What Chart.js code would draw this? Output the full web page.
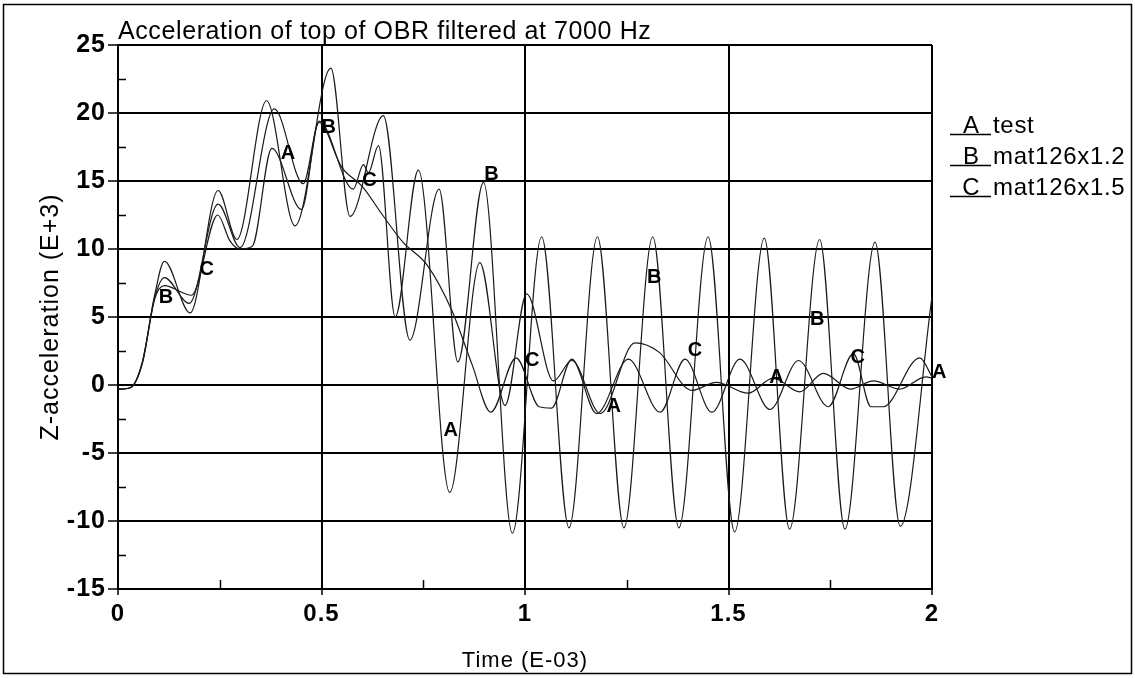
<!DOCTYPE html>
<html>
<head>
<meta charset="utf-8">
<script src="https://cdn.jsdelivr.net/npm/chart.js@4.4.1/dist/chart.umd.min.js"></script>
<style>
  html, body { margin: 0; padding: 0; background: #fff; }
  #wrap { width: 1135px; height: 678px; position: relative; }
</style>
</head>
<body>
<div id="wrap"><canvas id="c" width="1135" height="678"></canvas></div>
<script>
// Time axis in E-03 s, acceleration in E+3.
const timeTest = [0, 0.03, 0.06, 0.09, 0.114, 0.181, 0.245, 0.275, 0.30, 0.33, 0.378, 0.451, 0.494, 0.578, 0.603, 0.615, 0.640, 0.681, 0.738, 0.815, 0.889, 0.951, 1.004, 1.07, 1.115, 1.185, 1.27, 1.33, 1.41, 1.47, 1.548, 1.61, 1.675, 1.733, 1.80, 1.856, 1.92, 1.985, 2.0];
const accTest  = [-0.3, -0.2, 1.6, 6.3, 7.3, 6.6, 12.5, 10.6, 10.0, 10.2, 17.4, 12.9, 19.4, 14.4, 16.2, 15.6, 17.6, 5.0, 15.8, -7.9, 9.0, -1.5, 6.7, 0.3, 1.8, -2.1, 3.1, 2.4, -0.4, 0.2, -0.6, 0.5, -0.5, 0.85, -0.3, 0.3, -0.3, 0.6, 0.5];

const timeMat12 = [0, 0.03, 0.06, 0.09, 0.114, 0.177, 0.246, 0.292, 0.365, 0.435, 0.523, 0.570, 0.652, 0.717, 0.789, 0.835, 0.898, 0.969, 1.041, 1.108, 1.178, 1.243, 1.314, 1.378, 1.450, 1.515, 1.588, 1.650, 1.724, 1.786, 1.860, 1.922, 2.0];
const accMat12  = [-0.3, -0.2, 1.7, 6.6, 9.1, 5.3, 14.3, 10.7, 20.9, 11.7, 23.3, 12.4, 19.8, 3.3, 14.4, 1.7, 14.9, -10.9, 10.9, -10.5, 10.9, -10.5, 10.9, -10.5, 10.9, -10.8, 10.8, -10.6, 10.7, -10.6, 10.5, -10.4, 6.5];

const timeMat15 = [0, 0.03, 0.06, 0.09, 0.114, 0.175, 0.246, 0.30, 0.384, 0.455, 0.494, 0.55, 0.60, 0.65, 0.70, 0.76, 0.82, 0.87, 0.916, 0.978, 1.035, 1.065, 1.115, 1.176, 1.254, 1.332, 1.393, 1.459, 1.528, 1.602, 1.672, 1.745, 1.807, 1.85, 1.88, 1.970, 2.0];
const accMat15  = [-0.3, -0.2, 1.7, 6.4, 7.9, 6.0, 13.3, 10.1, 20.3, 14.8, 19.3, 16.0, 14.6, 12.5, 10.5, 8.8, 5.5, 1.5, -2.0, 2.0, -1.6, -1.7, 1.9, -2.1, 1.9, -2.0, 1.9, -2.0, 1.9, -1.8, 1.8, -1.6, 2.3, -1.6, -1.6, 2.0, 0.6];

// Points where the series letter is written (letter sits up and right of the point)
const tagTest  = { t: [0.4, 0.8, 1.2, 1.6, 2.0], v: [16.6, -3.75, -2.0, 0.15, 0.5] };
const tagMat12 = { t: [0.1, 0.5, 0.9, 1.3, 1.7], v: [6.0, 18.5, 15.1, 7.5, 4.4] };
const tagMat15 = { t: [0.2, 0.6, 1.0, 1.4, 1.8], v: [8.1, 14.6, 1.4, 2.1, 1.6] };

const seriesNames = ['test', 'mat126x1.2', 'mat126x1.5'];
const seriesKeys  = ['A', 'B', 'C'];

const xTicks = [0, 0.5, 1, 1.5, 2];
const xMinor = [0.25, 0.75, 1.25, 1.75];
const yMinor = [22.5, 17.5, 12.5, 7.5, 2.5, -2.5, -7.5, -12.5];

const FONT = '"Liberation Sans", Arial, Helvetica, sans-serif';
const INK = '#000';
const LINE = '#1a1a1a';

function pts(ts, vs) { return ts.map((t, i) => ({ x: t, y: vs[i] })); }

const spacing = {
  id: 'spacing',
  beforeDraw(chart) { chart.ctx.letterSpacing = '1px'; }
};

const decor = {
  id: 'decor',
  afterDraw(chart) {
    const { ctx, chartArea: a, scales: { x, y } } = chart;
    ctx.save();
    // outer frame
    ctx.letterSpacing = '0px';
    ctx.strokeStyle = INK; ctx.lineWidth = 1.5;
    ctx.strokeRect(3.5, 4.5, 1128, 669);
    // minor ticks
    ctx.beginPath();
    yMinor.forEach(v => { const py = Math.round(y.getPixelForValue(v)) + 0.5; ctx.moveTo(a.left, py); ctx.lineTo(a.left + 8, py); });
    xMinor.forEach(t => { const px = Math.round(x.getPixelForValue(t)) + 0.5; ctx.moveTo(px, a.bottom); ctx.lineTo(px, a.bottom - 9); });
    ctx.stroke();
    // title
    ctx.fillStyle = INK;
    ctx.font = '25px ' + FONT;
    ctx.letterSpacing = '0.6px';
    ctx.textAlign = 'left'; ctx.textBaseline = 'alphabetic';
    ctx.fillText('Acceleration of top of OBR filtered at 7000 Hz', a.left, 39);
    // letters on the curves
    ctx.letterSpacing = '0px';
    ctx.font = 'bold 20px ' + FONT;
    ctx.textAlign = 'left'; ctx.textBaseline = 'alphabetic';
    [[tagTest, 'A'], [tagMat12, 'B'], [tagMat15, 'C']].forEach(([tg, k]) => {
      tg.t.forEach((t, i) => {
        ctx.fillText(k, x.getPixelForValue(t), y.getPixelForValue(tg.v[i]));
      });
    });
    // legend
    const rows = [133, 164, 195];
    seriesNames.forEach((name, i) => {
      const by = rows[i];
      ctx.lineWidth = 1.4;
      ctx.beginPath(); ctx.moveTo(950, by + 1.5); ctx.lineTo(991, by + 1.5); ctx.stroke();
      ctx.letterSpacing = '0px';
      ctx.font = '24px ' + FONT;
      ctx.textAlign = 'center';
      ctx.fillText(seriesKeys[i], 971, by);
      ctx.letterSpacing = '0.7px';
      ctx.textAlign = 'left';
      ctx.fillText(name, 993, by);
    });
    ctx.restore();
  }
};

const ds = (label, data) => ({
  label, data, borderColor: LINE, borderWidth: 1.2, pointRadius: 0,
  fill: false, cubicInterpolationMode: 'monotone'
});

new Chart(document.getElementById('c'), {
  type: 'line',
  data: {
    datasets: [
      ds('test', pts(timeTest, accTest)),
      ds('mat126x1.2', pts(timeMat12, accMat12)),
      ds('mat126x1.5', pts(timeMat15, accMat15))
    ]
  },
  options: {
    responsive: false,
    animation: false,
    devicePixelRatio: 1,
    layout: { padding: { left: 0, top: 45, right: 203, bottom: 0 } },
    plugins: { legend: { display: false }, title: { display: false }, tooltip: { enabled: false } },
    elements: { line: { tension: 0 } },
    scales: {
      x: {
        type: 'linear', min: 0, max: 2,
        afterBuildTicks: s => { s.ticks = xTicks.map(v => ({ value: v })); },
        afterFit: s => { s.height = 89; },
        ticks: { color: INK, font: { family: FONT, size: 24, weight: 'bold' }, padding: 5, maxRotation: 0,
                 callback: v => String(v) },
        grid: { color: INK, lineWidth: 2, tickLength: 6, tickColor: INK, tickWidth: 1.5 },
        border: { display: true, color: INK, width: 2 },
        title: { display: true, text: 'Time (E-03)', color: INK, font: { family: FONT, size: 22 }, padding: { top: 0, bottom: 4 } }
      },
      y: {
        type: 'linear', min: -15, max: 25,
        ticks: { stepSize: 5, color: INK, font: { family: FONT, size: 25, weight: 'bold' }, padding: 2 },
        afterFit: s => { s.width = 118; },
        grid: { color: INK, lineWidth: 2, tickLength: 10, tickColor: INK, tickWidth: 1.5 },
        border: { display: true, color: INK, width: 2 },
        title: { display: true, text: 'Z-acceleration (E+3)', color: INK, font: { family: FONT, size: 25 }, padding: { top: 36, bottom: 0 } }
      }
    }
  },
  plugins: [spacing, decor]
});
</script>
</body>
</html>
